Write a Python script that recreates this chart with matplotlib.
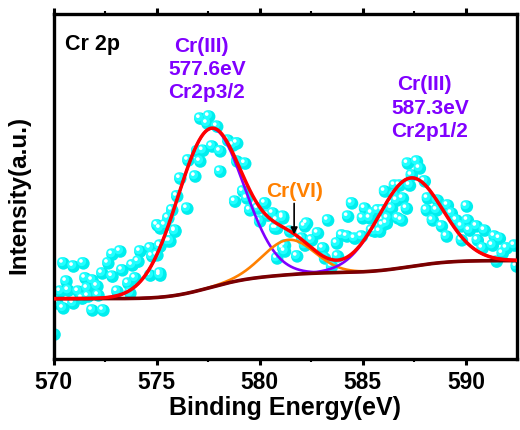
import numpy as np
import matplotlib
matplotlib.use("Agg")
import matplotlib.pyplot as plt
from matplotlib.transforms import offset_copy

plt.rcParams['font.family'] = ['Liberation Sans', 'DejaVu Sans']
plt.rcParams['font.weight'] = 'bold'

# --- measured Cr 2p spectrum (binding energy in eV, intensity in a.u.) ---
be = [570.10, 570.05, 570.48, 570.97, 571.45, 570.63, 570.34, 570.73, 570.48, 570.19,
      570.97, 571.21, 571.55, 571.65, 571.89, 572.13, 571.89, 572.42, 572.37, 572.66,
      572.86, 573.24, 572.86, 573.34, 573.10, 573.63, 573.83, 574.12, 574.21, 574.70,
      574.79, 575.18, 575.18, 574.70, 573.97, 573.73, 575.57, 575.18, 575.91, 572.18,
      571.69, 571.40,
      577.12, 577.55, 577.94, 577.46, 578.47, 578.91, 578.72, 578.09, 577.70, 577.26,
      576.97, 576.54, 577.12, 578.91, 579.30, 578.09, 576.88, 576.15, 576.00, 576.49,
      575.76, 575.57, 575.04, 575.42, 575.91, 575.67, 575.18, 575.04, 575.18, 578.81,
      579.20, 579.39, 579.54, 579.93, 580.27, 580.41, 580.02, 580.85, 581.14, 580.75,
      581.23, 581.82, 581.48,
      580.65, 581.14, 580.85, 582.20, 582.30, 582.06, 582.54, 582.20, 581.23, 580.85,
      582.83, 583.32, 583.08, 583.17, 583.80, 583.75, 584.00, 584.48, 584.29, 584.62,
      584.96, 585.11, 585.01, 585.35, 585.45, 585.84, 586.17, 585.98, 586.08, 586.56,
      586.66, 586.71, 584.24, 583.51, 581.14,
      587.19, 587.63, 587.77, 587.38, 588.01, 587.29, 586.80, 586.56, 586.95, 586.42,
      587.14, 585.74, 586.22, 586.90, 585.98, 585.59, 585.45, 588.16, 588.64, 588.11,
      588.60, 589.13, 589.32, 590.05, 588.40, 589.56, 590.10, 588.84, 589.81, 590.53,
      590.92, 589.08, 589.81, 590.19, 590.58, 591.40, 591.65, 590.82, 591.31, 591.99,
      592.37, 591.50, 592.47, 591.79]
counts = [17.8, 8.0, 28.4, 27.5, 28.4, 23.2, 20.3, 20.6, 15.5, 16.9,
          16.9, 20.3, 24.1, 21.2, 23.5, 21.8, 14.9, 14.9, 25.5, 28.4,
          30.9, 31.8, 24.6, 26.4, 20.3, 22.6, 27.8, 28.9, 31.8, 32.7,
          30.4, 33.2, 24.9, 24.9, 24.1, 19.8, 34.7, 38.4, 37.8, 19.2,
          18.9, 18.3,
          69.9, 70.5, 67.6, 68.5, 63.6, 62.8, 62.2, 60.5, 61.9, 60.7,
          60.5, 57.9, 57.6, 57.6, 57.0, 54.7, 53.3, 52.7, 47.6, 44.1,
          43.6, 41.3, 39.3, 39.3, 37.5, 34.7, 33.5, 30.7, 25.5, 46.1,
          49.0, 47.0, 43.6, 44.1, 45.6, 42.1, 40.4, 40.7, 41.8, 38.4,
          33.5, 30.4, 37.5,
          42.7, 41.3, 38.4, 39.0, 39.8, 35.5, 35.0, 33.5, 31.8, 29.8,
          37.0, 40.7, 32.7, 29.8, 30.4, 34.1, 36.4, 45.6, 41.8, 35.5,
          36.1, 44.1, 41.3, 41.3, 37.8, 37.5, 39.8, 43.6, 49.0, 50.7,
          46.4, 41.3, 36.1, 27.5, 32.7,
          57.0, 57.6, 55.6, 53.6, 51.9, 50.7, 50.7, 47.9, 47.0, 44.1,
          44.1, 43.6, 41.3, 40.7, 39.3, 37.5, 42.7, 47.0, 46.4, 43.6,
          43.6, 45.0, 42.7, 44.7, 40.7, 40.7, 40.7, 39.0, 39.0, 39.0,
          37.8, 36.1, 35.0, 37.8, 35.0, 36.1, 35.5, 32.7, 33.5, 32.7,
          33.5, 28.9, 27.5, 31.2]

# --- fitted components: centre (eV), height, sigma ---
peak_names = ["Cr(III) 2p3/2", "Cr(VI)", "Cr(III) 2p1/2"]
peak_centers = [577.6, 581.4, 587.3]
peak_heights = [45.5, 10.0, 25.4]
peak_sigmas = [1.6, 1.25, 1.55]
peak_colors = ["#8000ff", "#ff8000", "#8000ff"]
bg_low, bg_high = 18.3, 29.2


def gauss(x, c, h, s):
    return h * np.exp(-(x - c) ** 2 / (2 * s ** 2))


e = np.linspace(570, 592.5, 900)
comps = [gauss(e, c, h, s) for c, h, s in zip(peak_centers, peak_heights, peak_sigmas)]
total = np.sum(comps, axis=0)
# Shirley-type step background
cum = np.cumsum(total)
bg = bg_low + (bg_high - bg_low) * cum / cum[-1]

fig = plt.figure(figsize=(5.2, 4.31), dpi=100)
ax = fig.add_axes([0.103, 0.1647, 0.892, 0.8013])

# shaded spheres for the data points
hl1 = offset_copy(ax.transData, fig=fig, x=-1.3, y=1.3, units='points')
hl2 = offset_copy(ax.transData, fig=fig, x=-1.8, y=1.8, units='points')
ax.scatter(be, counts, s=80, color="#00eeee", edgecolors="none", zorder=2)
ax.scatter(be, counts, s=42, color="#22ffff", edgecolors="none", zorder=2, transform=hl1)
ax.scatter(be, counts, s=7, color="white", edgecolors="none", zorder=2, transform=hl2)

# components first, background over their tails, envelope on top
for comp, col in zip(comps, peak_colors):
    ax.plot(e, bg + comp, color=col, lw=1.9, zorder=3)
ax.plot(e, bg, color="#7a0000", lw=2.6, zorder=3.5)
ax.plot(e, bg + total, color="#ff0000", lw=2.5, zorder=4)

ax.set_xlim(570, 592.5)
ax.set_ylim(1, 100)
ax.set_xticks([570, 575, 580, 585, 590])
ax.set_xticks([572.5, 577.5, 582.5, 587.5], minor=True)
ax.set_yticks([])
ax.tick_params(axis='x', which='major', direction='out', length=4, width=2.2,
               labelsize=16.5, pad=4, top=True)
ax.tick_params(axis='x', which='minor', direction='out', length=2, width=1.5, top=True)
for sp in ax.spines.values():
    sp.set_linewidth(2.4)

ax.set_xlabel("Binding Energy(eV)", fontsize=18, fontweight='bold', labelpad=1)
ax.set_ylabel("Intensity(a.u.)", fontsize=17.5, fontweight='bold')
ax.yaxis.set_label_coords(-0.049, 0.478)

ax.text(570.55, 91.4, "Cr 2p", fontsize=15.5, fontweight='bold', ha='left', va='center')

purple = "#8000ff"
ax.text(577.15, 91.0, "Cr(III)", color=purple, fontsize=15, ha='center', va='center')
ax.text(577.45, 84.2, "577.6eV", color=purple, fontsize=15, ha='center', va='center')
ax.text(577.4, 77.6, "Cr2p3/2", color=purple, fontsize=15, ha='center', va='center')

ax.text(588.0, 80.0, "Cr(III)", color=purple, fontsize=15, ha='center', va='center')
ax.text(588.25, 73.2, "587.3eV", color=purple, fontsize=15, ha='center', va='center')
ax.text(588.25, 66.5, "Cr2p1/2", color=purple, fontsize=15, ha='center', va='center')

ax.text(581.7, 49.3, "Cr(VI)", color="#ff8000", fontsize=15, ha='center', va='center')
ax.annotate("", xy=(581.67, 36.7), xytext=(581.67, 45.6),
            arrowprops=dict(arrowstyle="-|>", color="black", lw=1.2,
                            mutation_scale=10, shrinkA=0, shrinkB=0), zorder=5)

fig.savefig("out.png", dpi=100)
